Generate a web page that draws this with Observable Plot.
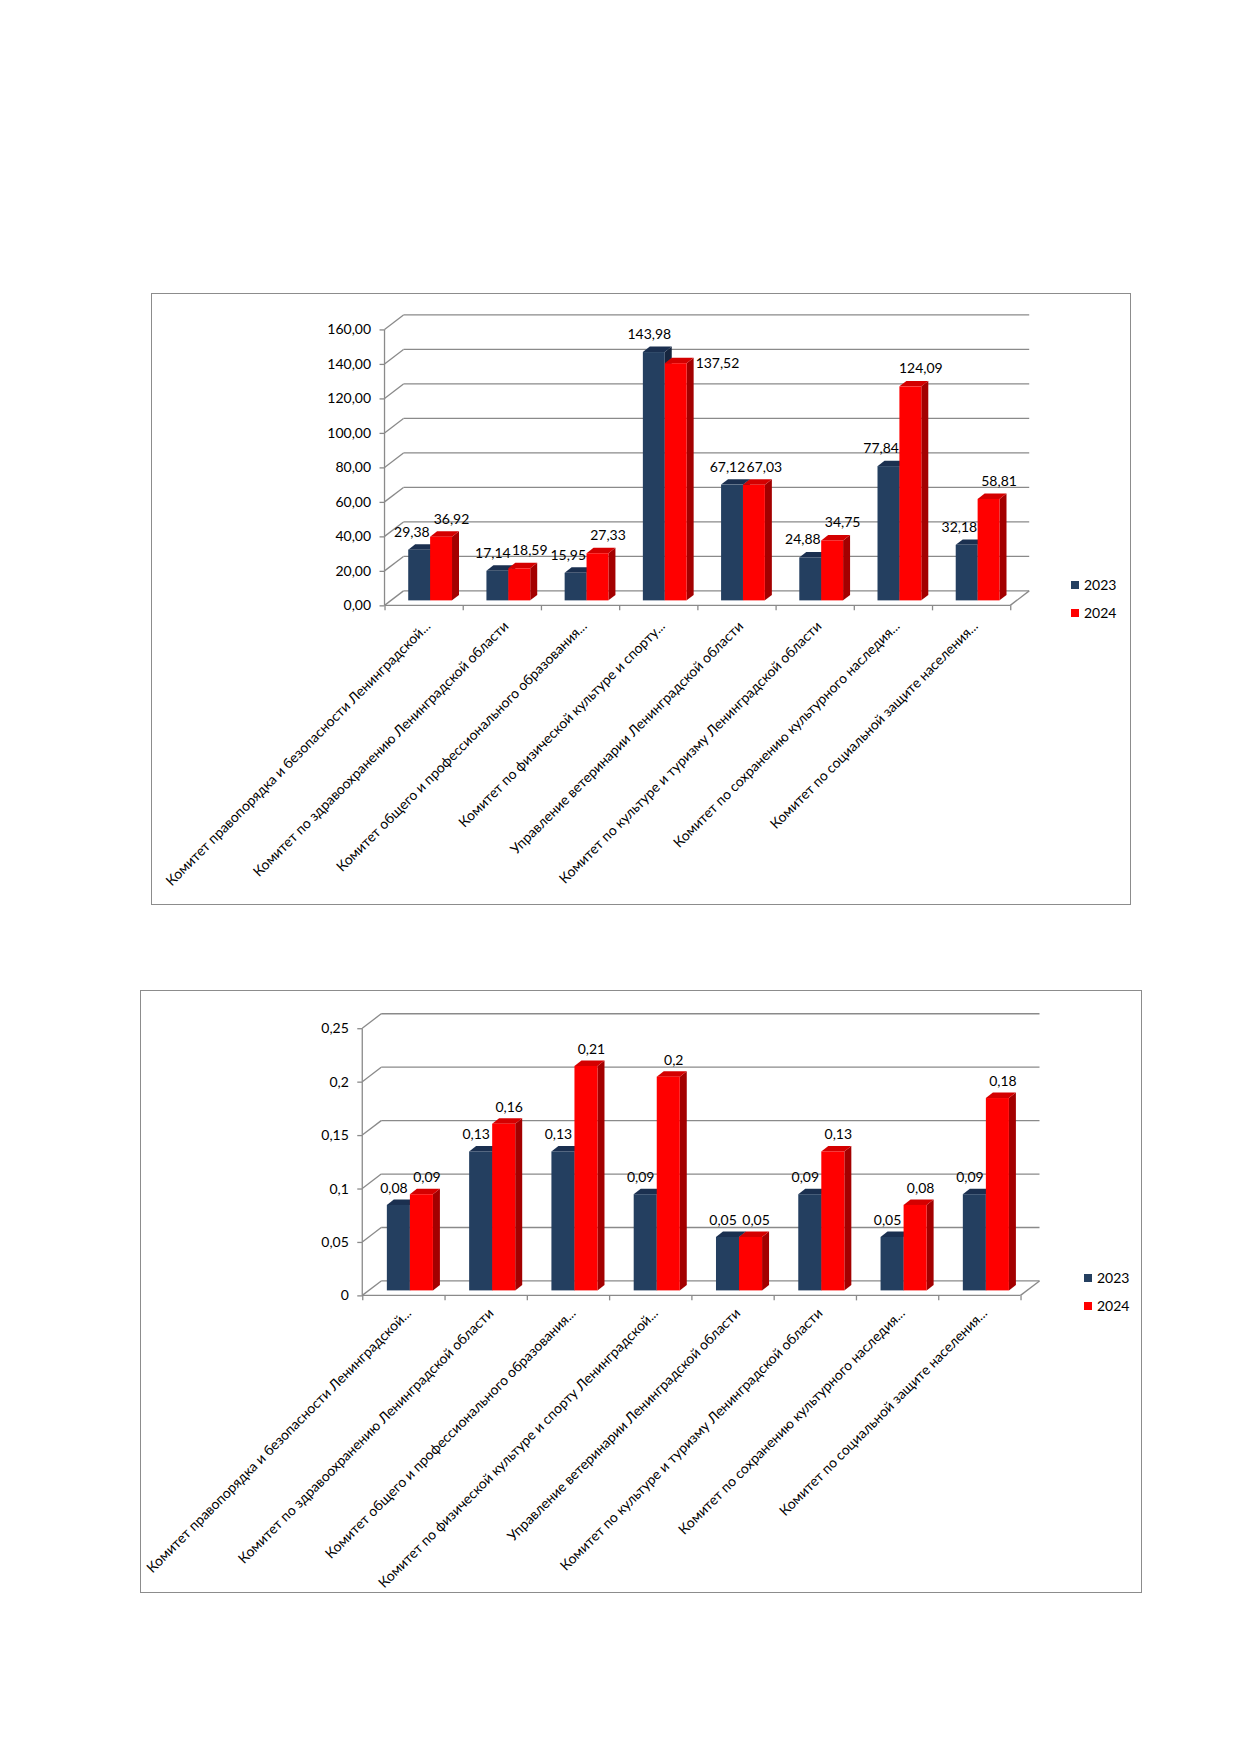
<!DOCTYPE html>
<html>
<head>
<meta charset="utf-8">
<script src="https://cdn.jsdelivr.net/npm/d3@7"></script>
<script src="https://cdn.jsdelivr.net/npm/@observablehq/plot@0.6"></script>
<style>
  html, body { margin: 0; padding: 0; background: #fff; }
  #page { position: relative; width: 1240px; height: 1754px; background: #fff; font-family: Lato, "Noto Sans", sans-serif; }
  .box { position: absolute; border: 1px solid #8c8c8c; box-sizing: border-box; }
  .box svg { position: absolute; left: -1px; top: -1px; }
  .legend { position: absolute; font-size: 14px; color: #000; font-family: Lato, sans-serif; }
  .legend .item { position: absolute; white-space: nowrap; line-height: 16px; }
  .legend .sw { position: absolute; width: 8px; height: 8px; }
</style>
</head>
<body>
<div id="page"></div>
<script>
// ---------- DATA ----------
const categories1 = [
  "Комитет правопорядка и безопасности Ленинградской...",
  "Комитет по здравоохранению Ленинградской области",
  "Комитет общего и профессионального образования...",
  "Комитет по физической культуре и спорту...",
  "Управление ветеринарии Ленинградской области",
  "Комитет по культуре и туризму Ленинградской области",
  "Комитет по сохранению культурного наследия...",
  "Комитет по социальной защите населения..."
];
const values2023a = [29.38, 17.14, 15.95, 143.98, 67.12, 24.88, 77.84, 32.18];
const values2024a = [36.92, 18.59, 27.33, 137.52, 67.03, 34.75, 124.09, 58.81];
const yTicks1 = [0, 20, 40, 60, 80, 100, 120, 140, 160];

const categories2 = [
  "Комитет правопорядка и безопасности Ленинградской...",
  "Комитет по здравоохранению Ленинградской области",
  "Комитет общего и профессионального образования...",
  "Комитет по физической культуре и спорту Ленинградской...",
  "Управление ветеринарии Ленинградской области",
  "Комитет по культуре и туризму Ленинградской области",
  "Комитет по сохранению культурного наследия...",
  "Комитет по социальной защите населения..."
];
const values2023b = [0.08, 0.13, 0.13, 0.09, 0.05, 0.09, 0.05, 0.09];
const values2024b = [0.09, 0.156, 0.21, 0.2, 0.05, 0.13, 0.08, 0.18];
const yTicks2 = [0, 0.05, 0.1, 0.15, 0.2, 0.25];

const seriesNames = ["2023", "2024"];

// ---------- STYLE ----------
const NAVY = {front: "#243F60", top: "#1b3050", side: "#16263f"};
const RED = {front: "#FF0000", top: "#d40000", side: "#a30000"};
const GRID = "#8a8a8a";
const FONT = "Lato, 'Noto Sans', sans-serif";

const page = document.getElementById("page");
const ctx = document.createElement("canvas").getContext("2d");
ctx.font = "14px Lato";
const textW = s => ctx.measureText(s).width;

function drawChart(cfg) {
  const {box, categories, v1, v2, yTicks, yMax, fmtTick, fmtVal, m, legend, catOff, lblOff} = cfg;
  const W = 0.28;            // bar width in category units
  const PL = {x: 6.5, y: -5}; // bar plane offset from front plane (px)
  const BD = {x: 7, y: -5.5}; // bar depth (px)
  const WALL = {x: 19, y: -14.5}; // back wall offset (px)

  const rows = categories.map((name, i) => ({i, name, a: v1[i], b: v2[i]}));
  const width = box.w, height = box.h;
  const pxPerUnit = (height - m.top - m.bottom) / yMax;
  const barPx = W * (width - m.left - m.right) / 8;

  const wallMark = (index, scales) => {
    const {x, y} = scales;
    const g = d3.create("svg:g").attr("fill", "none").attr("stroke", GRID).attr("stroke-width", 1.3);
    const X0 = x(0), X8 = x(8), Y0 = y(0);
    for (const t of yTicks) {
      const Y = y(t);
      g.append("line").attr("x1", X0 + WALL.x).attr("x2", X8 + WALL.x).attr("y1", Y + WALL.y).attr("y2", Y + WALL.y);
      g.append("line").attr("x1", X0).attr("x2", X0 + WALL.x).attr("y1", Y).attr("y2", Y + WALL.y);
    }
    g.append("line").attr("x1", X8).attr("x2", X8 + WALL.x).attr("y1", Y0).attr("y2", Y0 + WALL.y);
    g.append("line").attr("x1", X0).attr("x2", X8).attr("y1", Y0).attr("y2", Y0);
    g.append("line").attr("x1", X0).attr("x2", X0).attr("y1", Y0).attr("y2", y(yMax));
    return g.node();
  };

  const depthMark = (key, x1f, x2f, col) => (index, scales) => {
    const {x, y} = scales;
    const g = d3.create("svg:g");
    for (const d of rows) {
      const xa = x(x1f(d)) + PL.x, xb = x(x2f(d)) + PL.x;
      const yt = y(d[key]) + PL.y, yb = y(0) + PL.y;
      g.append("polygon").attr("fill", col.side)
        .attr("points", [[xb, yt], [xb + BD.x, yt + BD.y], [xb + BD.x, yb + BD.y], [xb, yb]].join(" "));
      g.append("polygon").attr("fill", col.top)
        .attr("points", [[xa, yt], [xb, yt], [xb + BD.x, yt + BD.y], [xa + BD.x, yt + BD.y]].join(" "));
    }
    return g.node();
  };

  const ax1 = d => d.i + 0.5 - W, ax2 = d => d.i + 0.5;
  const bx1 = d => d.i + 0.5, bx2 = d => d.i + 0.5 + W;

  // red label goes beside its bar when its top falls just under the blue label
  const beside = d => d.b < d.a && (d.a - d.b) * pxPerUnit > 4 && (d.a - d.b) * pxPerUnit < 18;
  // blue label is pushed left (right-aligned to the bar edge) when the taller red bar would cut it
  const pushed = d => (d.b - d.a) * pxPerUnit + 5.5 > lblOff.up - 7 &&
    (lblOff.a + textW(fmtVal(d.a)) / 2) > barPx / 2 - 1;

  const txt = {lineAnchor: "middle", fontSize: 14, fill: "#000"};

  const plot = Plot.plot({
    width, height,
    marginLeft: m.left, marginRight: m.right, marginTop: m.top, marginBottom: m.bottom,
    x: {type: "linear", domain: [0, 8], axis: null},
    y: {type: "linear", domain: [0, yMax], axis: null},
    style: {fontFamily: FONT, fontSize: "14px", color: "#000", background: "transparent", overflow: "visible"},
    marks: [
      wallMark,
      Plot.axisY({ticks: yTicks, tickFormat: fmtTick, tickSize: 5, tickPadding: 9, stroke: GRID, strokeWidth: 1.3, fill: "#000", fontSize: 14, label: null}),
      Plot.axisX({ticks: d3.range(0, 9), tickFormat: () => "", tickSize: 5, stroke: GRID, strokeWidth: 1.3, label: null}),
      depthMark("a", ax1, ax2, NAVY),
      Plot.rect(rows, {x1: ax1, x2: ax2, y1: 0, y2: "a", fill: NAVY.front, dx: PL.x, dy: PL.y}),
      depthMark("b", bx1, bx2, RED),
      Plot.rect(rows, {x1: bx1, x2: bx2, y1: 0, y2: "b", fill: RED.front, dx: PL.x, dy: PL.y}),
      Plot.text(rows.filter(d => !pushed(d)), {x: d => d.i + 0.5 - W / 2, y: "a", text: d => fmtVal(d.a), dx: PL.x + lblOff.a, dy: PL.y - lblOff.up, ...txt}),
      Plot.text(rows.filter(pushed), {x: ax2, y: "a", text: d => fmtVal(d.a), dx: PL.x - 1, dy: PL.y - lblOff.up, textAnchor: "end", ...txt}),
      Plot.text(rows.filter(d => !beside(d)), {x: d => d.i + 0.5 + W / 2, y: "b", text: d => fmtVal(d.b), dx: PL.x + lblOff.b, dy: PL.y - lblOff.up, ...txt}),
      Plot.text(rows.filter(beside), {x: bx2, y: "b", text: d => fmtVal(d.b), dx: PL.x + BD.x + 1.5, dy: PL.y, textAnchor: "start", ...txt}),
      Plot.text(rows, {x: d => d.i + 0.5, y: () => 0, text: "name", rotate: -45, textAnchor: "end", dx: catOff.x, dy: catOff.y, ...txt})
    ]
  });

  const div = document.createElement("div");
  div.className = "box";
  Object.assign(div.style, {left: box.x + "px", top: box.y + "px", width: box.w + "px", height: box.h + "px"});
  div.appendChild(plot);
  page.appendChild(div);

  const lg = document.createElement("div");
  lg.className = "legend";
  Object.assign(lg.style, {left: legend.x + "px", top: legend.y + "px"});
  [[seriesNames[0], NAVY.front], [seriesNames[1], RED.front]].forEach(([name, col], k) => {
    const it = document.createElement("div");
    it.className = "item";
    it.style.top = (k * legend.gap - 8) + "px";
    it.style.left = "0px";
    it.innerHTML = `<span class="sw" style="background:${col};left:-4px;top:4px"></span><span style="position:absolute;left:${legend.tx}px">${name}</span>`;
    lg.appendChild(it);
  });
  page.appendChild(lg);
}

const comma = s => s.replace(".", ",");

drawChart({
  box: {x: 151, y: 293, w: 980, h: 612},
  categories: categories1, v1: values2023a, v2: values2024a,
  yTicks: yTicks1, yMax: 160,
  fmtTick: d => comma(d3.format(".2f")(d)),
  fmtVal: d => comma(d3.format(".2f")(d)),
  m: {left: 234, right: 119, top: 36.5, bottom: 299},
  legend: {x: 1075, y: 585, gap: 27.7, tx: 9},
  catOff: {x: 4, y: 18},
  lblOff: {a: -5, b: 10, up: 18}
});

drawChart({
  box: {x: 140, y: 990, w: 1002, h: 603},
  categories: categories2, v1: values2023b, v2: values2024b,
  yTicks: yTicks2, yMax: 0.25,
  fmtTick: d => comma(String(+d.toFixed(2))),
  fmtVal: d => comma(String(+d.toFixed(2))),
  m: {left: 222.7, right: 119.7, top: 38.3, bottom: 297},
  legend: {x: 1088, y: 1278, gap: 27.7, tx: 9},
  catOff: {x: 5, y: 15},
  lblOff: {a: -5, b: 5, up: 17}
});
</script>
</body>
</html>
